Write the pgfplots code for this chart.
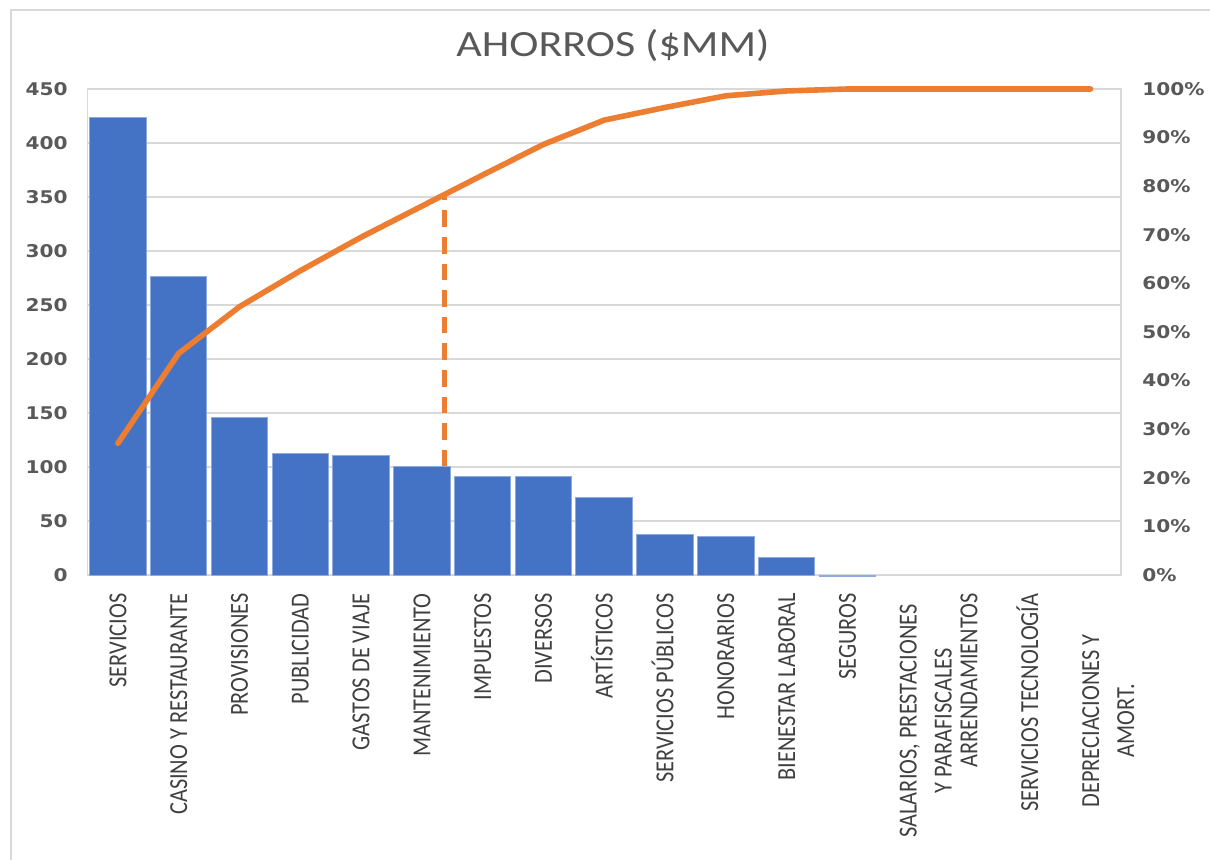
\documentclass[border=0pt]{standalone}
\usepackage{pgfplots}
\pgfplotsset{compat=1.18}
\usepackage{fontspec}
\setmainfont{Carlito}
\newfontfamily\tickfont[FakeStretch=1.15]{DejaVu Sans}
\newfontfamily\catfont[FakeStretch=0.86]{Carlito}
\newfontfamily\titlefont[FakeStretch=1.19]{Carlito}
\definecolor{barblue}{HTML}{4472C4}
\definecolor{baredge}{HTML}{8FAADC}
\definecolor{paretoorange}{HTML}{ED7D31}
\definecolor{gridgray}{HTML}{D9D9D9}
\definecolor{tickgray}{HTML}{595959}
\definecolor{labelgray}{HTML}{404040}
\newcommand{\cl}[1]{\raisebox{-4.2pt}{#1}}
\newcommand{\ml}[2]{\raisebox{-4.2pt}{\makebox[127.5pt][c]{\begin{tabular}[t]{@{}c@{}}#1\\#2\end{tabular}}}}
\begin{document}
\begin{tikzpicture}
\useasboundingbox (0,0) rectangle (605pt,429.5pt);
\draw[gridgray, line width=1pt] (5.5pt,-5pt) -- (5.5pt,424.5pt) -- (612pt,424.5pt);
\node[anchor=base, text=tickgray, font=\titlefont\fontsize{18.5}{22}\selectfont] at (306.5pt,401pt) {AHORROS (\$MM)};
\begin{axis}[
  at={(43.75pt,142pt)}, anchor=south west,
  width=516.75pt, height=243pt, scale only axis,
  xmin=-0.5, xmax=16.5, ymin=0, ymax=450,
  clip=false,
  ytick={0,50,...,450},
  xtick={0,...,16},
  xticklabels={\cl{SERVICIOS},\cl{CASINO Y RESTAURANTE},\cl{PROVISIONES},\cl{PUBLICIDAD},\cl{GASTOS DE VIAJE},\cl{MANTENIMIENTO},\cl{IMPUESTOS},\cl{DIVERSOS},\cl{ARTÍSTICOS},\cl{SERVICIOS PÚBLICOS},\cl{HONORARIOS},\cl{BIENESTAR LABORAL},\cl{SEGUROS},{\ml{SALARIOS, PRESTACIONES}{Y PARAFISCALES}},\cl{ARRENDAMIENTOS},\cl{SERVICIOS TECNOLOGÍA},{\ml{DEPRECIACIONES Y}{AMORT.}}},
  xticklabel style={rotate=90, anchor=base east, inner sep=0pt, text=labelgray, font=\catfont\fontsize{13}{17.5}\selectfont},
  xticklabel shift=9pt,
  yticklabel style={inner sep=0pt, text=tickgray, font=\tickfont\bfseries\fontsize{8.75}{10}\selectfont},
  yticklabel shift=9.75pt,
  /pgf/number format/assume math mode=true,
  ymajorgrids, grid style={draw=gridgray, line width=1pt},
  axis line style={draw=gridgray, line width=0.8pt},
  major tick length=0pt, tick style={draw=none},
]
\addplot[ybar, bar width=0.93, fill=barblue, draw=baredge, line width=0.5pt] coordinates {
(0,424) (1,276) (2,145.6) (3,112.4) (4,110.5) (5,100.5) (6,91.2) (7,91.2) (8,72.0) (9,37.2) (10,35.4) (11,16.5) (12,-1.5)
};
\addplot[paretoorange, line width=2.2pt, dash pattern=on 8.3pt off 5pt] coordinates {(5.37,100.5) (5.37,352)};
\end{axis}
\begin{axis}[
  at={(43.75pt,142pt)}, anchor=south west,
  width=516.75pt, height=243pt, scale only axis,
  xmin=-0.5, xmax=16.5, ymin=0, ymax=100,
  clip=false,
  axis x line=none, axis y line*=right,
  axis line style={draw=none},
  ytick={0,10,...,100},
  yticklabel={\pgfmathprintnumber{\tick}\%},
  yticklabel style={inner sep=0pt, text=tickgray, font=\tickfont\bfseries\fontsize{8.75}{10}\selectfont},
  yticklabel shift=10.5pt,
  /pgf/number format/assume math mode=true,
  major tick length=0pt, tick style={draw=none},
]
\addplot[paretoorange, line width=2.8pt, line cap=round, line join=round] coordinates {
(0,27.1) (1,45.6) (2,55.2) (3,62.6) (4,69.5) (5,75.9) (6,82.3) (7,88.6) (8,93.6) (9,96.2) (10,98.6) (11,99.6) (12,100) (13,100) (14,100) (15,100) (16,100)
};
\end{axis}
\end{tikzpicture}
\end{document}
